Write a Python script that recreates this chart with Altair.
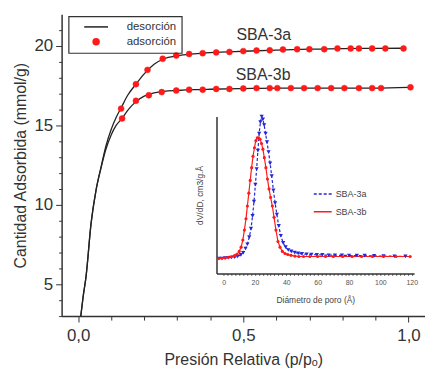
import altair as alt
import pandas as pd

FONT = "Liberation Sans"

# ---------------- main isotherms ----------------
p_3a_des = [0.008, 0.015, 0.024, 0.039, 0.054, 0.069, 0.084, 0.10, 0.115, 0.13, 0.15, 0.175, 0.20, 0.23, 0.26, 0.30, 0.35, 0.40, 0.50, 0.60, 0.70, 0.80, 0.90, 0.985]
v_3a_des = [3.0, 4.2, 5.5, 8.8, 10.9, 12.35, 13.7, 14.75, 15.5, 16.1, 16.9, 17.6, 18.25, 18.85, 19.2, 19.38, 19.5, 19.58, 19.67, 19.74, 19.8, 19.84, 19.85, 19.86]
p_3b_des = [0.008, 0.015, 0.024, 0.039, 0.054, 0.069, 0.084, 0.10, 0.115, 0.133, 0.15, 0.175, 0.20, 0.23, 0.26, 0.30, 0.35, 0.40, 0.50, 0.60, 0.70, 0.80, 0.90, 1.0]
v_3b_des = [3.0, 4.2, 5.5, 8.8, 10.9, 12.3, 13.5, 14.4, 15.0, 15.45, 15.95, 16.5, 16.85, 17.05, 17.15, 17.2, 17.25, 17.28, 17.32, 17.35, 17.35, 17.35, 17.35, 17.4]

p_3a_ads = [0.13, 0.175, 0.21, 0.256, 0.297, 0.336, 0.377, 0.418, 0.458, 0.50, 0.54, 0.58, 0.62, 0.663, 0.70, 0.745, 0.785, 0.825, 0.85, 0.89, 0.93, 0.985]
v_3a_ads = [16.06, 17.6, 18.5, 19.2, 19.4, 19.5, 19.55, 19.6, 19.63, 19.68, 19.72, 19.73, 19.78, 19.8, 19.8, 19.8, 19.85, 19.85, 19.85, 19.85, 19.85, 19.85]
p_3b_ads = [0.133, 0.175, 0.214, 0.253, 0.297, 0.336, 0.377, 0.418, 0.458, 0.50, 0.54, 0.58, 0.603, 0.644, 0.684, 0.725, 0.766, 0.806, 0.85, 0.89, 0.917, 1.006]
v_3b_ads = [15.44, 16.55, 16.9, 17.1, 17.2, 17.25, 17.25, 17.3, 17.3, 17.33, 17.35, 17.35, 17.35, 17.35, 17.35, 17.35, 17.35, 17.35, 17.35, 17.35, 17.35, 17.4]

sample_labels = ["SBA-3a", "SBA-3b"]
label_p = [0.562, 0.56]
label_v = [20.69, 18.2]

x_ticks = [round(i * 0.1, 1) for i in range(11)]
y_ticks = list(range(3, 22))

# ---------------- inset: pore size distribution ----------------
d_3a = [-3, -1, 1, 3, 5, 7, 9, 11, 12.5, 14, 15.2, 16.4, 17.5, 18.5, 19.4, 20.3, 21.1, 21.9, 22.7, 23.5, 24.3, 25.1, 25.9, 26.8, 27.7, 28.7, 29.7, 30.7, 31.8, 32.9, 34, 35.2, 36.5, 38, 39.6, 41.3, 43.2, 45.3, 47.6, 50, 53, 56, 59.5, 63, 67, 71, 75.5, 80, 85, 90, 96, 102, 109, 116]
f_3a = [0.0, 0.0, 0.003, 0.005, 0.007, 0.01, 0.015, 0.025, 0.04, 0.07, 0.1, 0.15, 0.21, 0.3, 0.4, 0.52, 0.63, 0.76, 0.88, 0.96, 1.0, 0.98, 0.94, 0.88, 0.82, 0.75, 0.67, 0.58, 0.48, 0.39, 0.31, 0.23, 0.16, 0.11, 0.08, 0.06, 0.05, 0.042, 0.036, 0.032, 0.03, 0.028, 0.026, 0.025, 0.023, 0.023, 0.022, 0.021, 0.02, 0.02, 0.018, 0.017, 0.016, 0.015]
d_3b = [-3, -1, 1, 3, 5, 7, 8.5, 10, 11.2, 12.3, 13.3, 14.3, 15.2, 16.1, 17, 17.9, 18.8, 19.7, 20.6, 21.5, 22.4, 23.3, 24.2, 25.1, 26, 27, 28, 29, 30, 31.1, 32.2, 33.4, 34.7, 36, 37.5, 39.2, 41, 43, 45.5, 48, 51, 55, 60, 65, 70, 76, 82, 88, 95, 102, 110, 119]
f_3b = [0.0, 0.002, 0.005, 0.008, 0.012, 0.02, 0.03, 0.05, 0.08, 0.13, 0.2, 0.28, 0.37, 0.46, 0.55, 0.64, 0.72, 0.78, 0.83, 0.85, 0.85, 0.84, 0.81, 0.77, 0.71, 0.64, 0.56, 0.49, 0.43, 0.37, 0.29, 0.2, 0.12, 0.08, 0.05, 0.035, 0.028, 0.022, 0.017, 0.014, 0.014, 0.014, 0.014, 0.014, 0.014, 0.014, 0.014, 0.014, 0.014, 0.014, 0.014, 0.014]
inset_x_ticks = [i * 2.5 for i in range(49)]

# ---------------- tables ----------------
des_df = pd.concat([
    pd.DataFrame({"p": p_3a_des, "v": v_3a_des, "muestra": "SBA-3a", "tipo": "desorción"}),
    pd.DataFrame({"p": p_3b_des, "v": v_3b_des, "muestra": "SBA-3b", "tipo": "desorción"}),
])
ads_df = pd.concat([
    pd.DataFrame({"p": p_3a_ads, "v": v_3a_ads, "muestra": "SBA-3a", "tipo": "adsorción"}),
    pd.DataFrame({"p": p_3b_ads, "v": v_3b_ads, "muestra": "SBA-3b", "tipo": "adsorción"}),
])
lbl_df = pd.DataFrame({"p": label_p, "v": label_v, "label": sample_labels})
psd_a = pd.DataFrame({"d": d_3a, "f": f_3a, "muestra": "SBA-3a"})
psd_b = pd.DataFrame({"d": d_3b, "f": f_3b, "muestra": "SBA-3b"})
psd_df = pd.concat([psd_a, psd_b])

TXT = "#333333"
RED = "#ff1a1a"
BLUE = "#2626d9"

x_main = alt.X(
    "p:Q",
    scale=alt.Scale(domain=[-0.05, 1.05], nice=False, zero=False),
    axis=alt.Axis(
        values=x_ticks, grid=False, labelFlush=False, labelOverlap=False,
        labelExpr="abs(datum.value*2 - round(datum.value*2)) < 0.001 ? replace(format(datum.value, '.1f'), '.', ',') : ''",
        tickSize={"condition": {"test": "abs(datum.value*2 - round(datum.value*2)) < 0.001", "value": 6}, "value": 4},
        labelFontSize=17, titleFontSize=16, labelPadding=6, titlePadding=8,
    ),
    title="Presión Relativa (p/pₒ)",
)
y_main = alt.Y(
    "v:Q",
    scale=alt.Scale(domain=[3, 22], nice=False, zero=False),
    axis=alt.Axis(
        values=y_ticks, grid=False, labelOverlap=False, labelFlush=False,
        labelExpr="datum.value % 5 === 0 ? format(datum.value, 'd') : ''",
        tickSize={"condition": {"test": "datum.value % 5 === 0", "value": 6}, "value": 3},
        labelFontSize=17, titleFontSize=16, labelPadding=3, titlePadding=5,
    ),
    title="Cantidad Adsorbida (mmol/g)",
)

main_legend = alt.Legend(
    title=None, orient="none", legendX=7, legendY=2, strokeColor=TXT, padding=5,
    labelFont=FONT, labelFontSize=11.5, labelColor=TXT, symbolSize=36,
    symbolStrokeWidth=1.5, symbolOffset=17, labelOffset=25, rowPadding=2,
)
tipo_domain = ["desorción", "adsorción"]
stroke_scale = alt.Scale(domain=tipo_domain, range=["#222222", RED])
fill_scale = alt.Scale(domain=tipo_domain, range=["#222222", RED])
shape_scale = alt.Scale(domain=tipo_domain, range=["M-4,0H4", "circle"])

main_lines = alt.Chart(des_df).mark_line(interpolate="monotone", strokeWidth=1.3).encode(
    x=x_main, y=y_main, detail="muestra:N",
    stroke=alt.Stroke("tipo:N", scale=stroke_scale, legend=main_legend),
)
main_pts = alt.Chart(ads_df).mark_point(filled=True, size=36, opacity=1, strokeWidth=0.5).encode(
    x=x_main, y=y_main,
    fill=alt.Fill("tipo:N", scale=fill_scale, legend=main_legend),
    stroke=alt.Stroke("tipo:N", scale=stroke_scale, legend=main_legend),
    shape=alt.Shape("tipo:N", scale=shape_scale, legend=main_legend),
)
main_txt = alt.Chart(lbl_df).mark_text(font=FONT, fontSize=16, color=TXT).encode(
    x=x_main, y=y_main, text="label:N"
)
main = alt.layer(main_lines, main_pts, main_txt)

# inset
x_in = alt.X(
    "d:Q",
    scale=alt.Scale(domain=[-4.5, 121.5], range=[156, 355], nice=False, zero=False),
    axis=alt.Axis(
        orient="bottom", offset=-43, values=inset_x_ticks, grid=False,
        labelExpr="datum.value % 20 === 0 ? format(datum.value, 'd') : ''",
        labelFlush=False, labelOverlap=False, tickSize=2, tickWidth=0.8,
        labelFontSize=7, titleFontSize=8.5, labelPadding=3, titlePadding=10,
        labelColor="#555555", titleColor="#444444",
    ),
    title="Diámetro de poro (Å)",
)
y_in = alt.Y(
    "f:Q",
    scale=alt.Scale(domain=[-0.105, 1.0], range=[261, 103], nice=False, zero=False),
    axis=alt.Axis(
        orient="left", offset=-156, grid=False, ticks=False, labels=False,
        titleFontSize=8.5, titlePadding=12, titleColor="#444444",
    ),
    title="dV/dD, cm3/g.Å",
)
inset_legend = alt.Legend(
    title=None, orient="none", legendX=253, legendY=171, padding=0,
    labelFont=FONT, labelFontSize=9, labelColor="#444444", symbolType="stroke",
    symbolSize=324, symbolStrokeWidth=1.5, rowPadding=3, labelOffset=3,
)
in_lines = alt.Chart(psd_df).mark_line(strokeWidth=1.2).encode(
    x=x_in, y=y_in,
    color=alt.Color("muestra:N", scale=alt.Scale(domain=sample_labels, range=[BLUE, RED]), legend=inset_legend),
    strokeDash=alt.StrokeDash("muestra:N", scale=alt.Scale(domain=sample_labels, range=[[3, 2], [1, 0]]), legend=inset_legend),
)
in_pts_a = alt.Chart(psd_a).mark_point(shape="triangle-down", filled=True, size=18, color=BLUE, opacity=1).encode(x=x_in, y=y_in)
in_pts_b = alt.Chart(psd_b).mark_circle(size=10, color=RED, opacity=1).encode(x=x_in, y=y_in)
inset = alt.layer(in_lines, in_pts_a, in_pts_b)

chart = alt.layer(main, inset).resolve_scale(x="independent", y="independent").properties(
    width=366, height=304,
    padding={"left": 5, "top": 5, "right": 0, "bottom": 0},
).configure_view(stroke=None).configure_axis(
    domainColor="#333333", domainWidth=1.5, tickColor="#333333",
    labelColor=TXT, titleColor=TXT, labelFont=FONT, titleFont=FONT,
    titleFontWeight="normal",
).configure_legend(strokeWidth=1.2)

chart.save("out.html", embed_options={"renderer": "svg", "actions": False})
